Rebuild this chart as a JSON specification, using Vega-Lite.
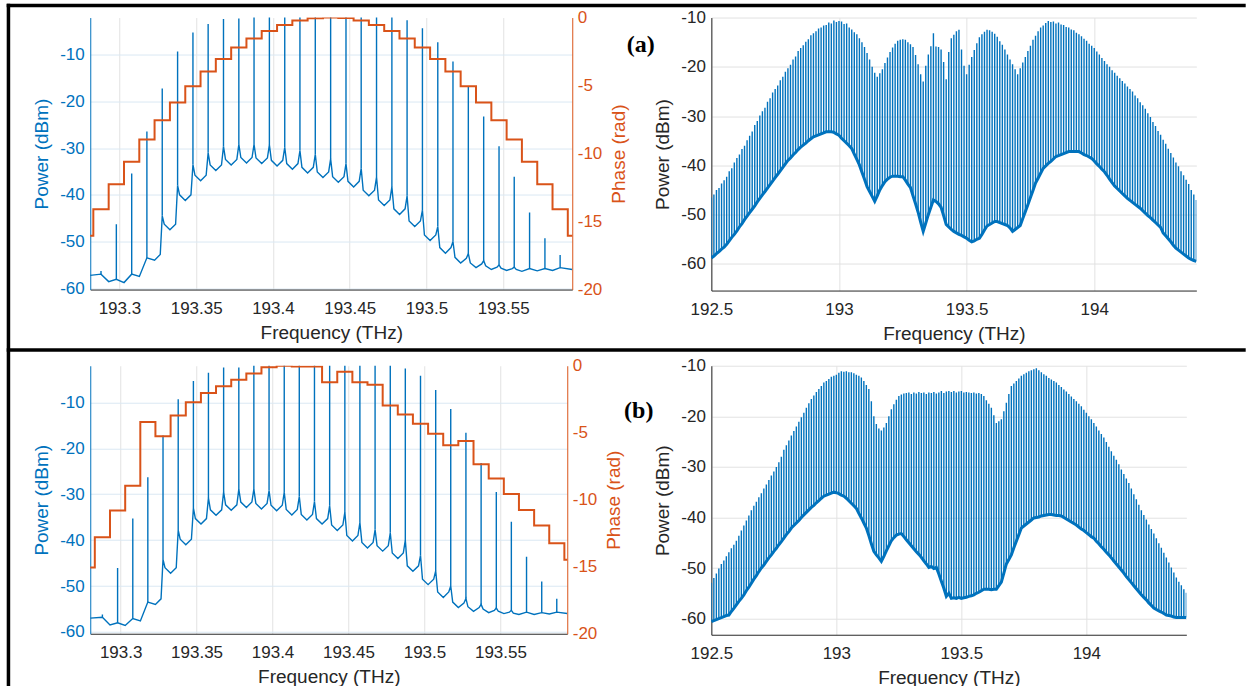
{
"$schema":"https://vega.github.io/schema/vega-lite/v6.json",
"background":"white",
"padding":{"left":5.25,"top":2.55,"right":0,"bottom":0},
"config":{
 "view":{"stroke":null},
 "font":"Liberation Sans",
 "axis":{"labelFont":"Liberation Sans","titleFont":"Liberation Sans","labelFontSize":17,"titleFontSize":19,"titleFontWeight":"normal","labelColor":"#262626","titleColor":"#262626","domainColor":"#262626","domainWidth":1,"ticks":false,"gridColor":"#e2e2e2","gridWidth":1,"labelPadding":6,"titlePadding":8,"labelBound":false,"labelOverlap":false,"labelFlush":false},
 "axisX":{"labelPadding":11,"titlePadding":7}
},
"datasets":{
 "tl_spec":[
  {"f":193.2800,"p":-57.3},{"f":193.2880,"p":-57.0,"pk":-56.3},{"f":193.2930,"p":-58.6},{"f":193.2980,"p":-58.1,"pk":-46.3},{"f":193.3030,"p":-58.8},{"f":193.3080,"p":-57.0,"pk":-35.4},{"f":193.3130,"p":-57.5},{"f":193.3179,"p":-53.5,"pk":-26.4},{"f":193.3229,"p":-54.0},
  {"f":193.3266,"p":-52.8},{"f":193.3279,"p":-44.5,"pk":-17.2},{"f":193.3292,"p":-46.3},{"f":193.3329,"p":-47.5},
  {"f":193.3366,"p":-46.3},{"f":193.3379,"p":-38.0,"pk":-9.3},{"f":193.3392,"p":-40.0},{"f":193.3429,"p":-41.2},
  {"f":193.3466,"p":-40.0},{"f":193.3479,"p":-33.5,"pk":-5.2},{"f":193.3492,"p":-35.8},{"f":193.3529,"p":-37.0},
  {"f":193.3565,"p":-35.8},{"f":193.3578,"p":-31.0,"pk":-3.4},{"f":193.3591,"p":-33.6},{"f":193.3628,"p":-34.8},
  {"f":193.3665,"p":-33.6},{"f":193.3678,"p":-29.6,"pk":-2.3},{"f":193.3691,"p":-32.4},{"f":193.3728,"p":-33.6},
  {"f":193.3765,"p":-32.4},{"f":193.3778,"p":-29.2,"pk":-2.2},{"f":193.3791,"p":-32.0},{"f":193.3828,"p":-33.2},
  {"f":193.3864,"p":-32.0},{"f":193.3877,"p":-29.2,"pk":-1.5},{"f":193.3890,"p":-32.1},{"f":193.3927,"p":-33.3},
  {"f":193.3964,"p":-32.1},{"f":193.3977,"p":-29.3,"pk":-1.5},{"f":193.3990,"p":-32.6},{"f":193.4027,"p":-33.8},
  {"f":193.4064,"p":-32.6},{"f":193.4077,"p":-29.8,"pk":-1.5},{"f":193.4090,"p":-33.3},{"f":193.4127,"p":-34.5},
  {"f":193.4163,"p":-33.3},{"f":193.4176,"p":-30.5,"pk":-1.5},{"f":193.4189,"p":-34.1},{"f":193.4226,"p":-35.3},
  {"f":193.4263,"p":-34.1},{"f":193.4276,"p":-31.3,"pk":-1.5},{"f":193.4289,"p":-35.1},{"f":193.4326,"p":-36.3},
  {"f":193.4363,"p":-35.1},{"f":193.4376,"p":-32.3,"pk":-1.5},{"f":193.4389,"p":-36.1},{"f":193.4426,"p":-37.3},
  {"f":193.4463,"p":-36.1},{"f":193.4476,"p":-33.3,"pk":-1.5},{"f":193.4489,"p":-37.1},{"f":193.4526,"p":-38.3},
  {"f":193.4562,"p":-37.1},{"f":193.4575,"p":-34.3,"pk":-1.5},{"f":193.4588,"p":-39.0},{"f":193.4625,"p":-40.2},
  {"f":193.4662,"p":-39.0},{"f":193.4675,"p":-36.2,"pk":-1.5},{"f":193.4688,"p":-41.1},{"f":193.4725,"p":-42.3},
  {"f":193.4762,"p":-41.1},{"f":193.4775,"p":-38.3,"pk":-1.5},{"f":193.4788,"p":-43.0},{"f":193.4825,"p":-44.2},
  {"f":193.4861,"p":-43.0},{"f":193.4874,"p":-40.2,"pk":-2.6},{"f":193.4887,"p":-45.6},{"f":193.4924,"p":-46.8},
  {"f":193.4961,"p":-45.6},{"f":193.4974,"p":-43.3,"pk":-4.3},{"f":193.4987,"p":-48.6},{"f":193.5024,"p":-49.8},
  {"f":193.5061,"p":-48.6},{"f":193.5074,"p":-46.8,"pk":-7.3},{"f":193.5087,"p":-51.3},{"f":193.5124,"p":-52.5},
  {"f":193.5160,"p":-51.3},{"f":193.5173,"p":-50.0,"pk":-11.4},{"f":193.5186,"p":-53.4},{"f":193.5223,"p":-54.6},
  {"f":193.5260,"p":-53.6},{"f":193.5273,"p":-52.6,"pk":-16.7},{"f":193.5286,"p":-54.6},{"f":193.5323,"p":-55.6},
  {"f":193.5360,"p":-54.8},{"f":193.5373,"p":-54.1,"pk":-23.2},{"f":193.5386,"p":-55.2},{"f":193.5423,"p":-56.0},
  {"f":193.5460,"p":-55.5},{"f":193.5473,"p":-55.0,"pk":-29.6},{"f":193.5486,"p":-55.7},{"f":193.5523,"p":-56.2},
  {"f":193.5559,"p":-55.8},{"f":193.5572,"p":-55.5,"pk":-36.1},{"f":193.5585,"p":-56.0},{"f":193.5622,"p":-56.4},
  {"f":193.5672,"p":-55.8,"pk":-43.8},{"f":193.5722,"p":-56.3},{"f":193.5772,"p":-55.8,"pk":-49.3},{"f":193.5822,"p":-56.2},{"f":193.5871,"p":-55.6,"pk":-52.9},{"f":193.5950,"p":-56.0}
 ],
 "tl_phase":[
  {"f":193.2780,"ph":-16.05},{"f":193.2880,"ph":-14.1},{"f":193.2980,"ph":-12.25},{"f":193.3080,"ph":-10.6},{"f":193.3179,"ph":-8.97},{"f":193.3279,"ph":-7.55},{"f":193.3379,"ph":-6.25},{"f":193.3479,"ph":-5.05},{"f":193.3578,"ph":-3.97},{"f":193.3678,"ph":-3.04},{"f":193.3778,"ph":-2.2},{"f":193.3877,"ph":-1.54},{"f":193.3977,"ph":-0.98},{"f":193.4077,"ph":-0.54},{"f":193.4176,"ph":-0.22},{"f":193.4276,"ph":-0.05},{"f":193.4376,"ph":0},{"f":193.4476,"ph":-0.03},{"f":193.4575,"ph":-0.22},{"f":193.4675,"ph":-0.54},{"f":193.4775,"ph":-0.98},{"f":193.4874,"ph":-1.54},{"f":193.4974,"ph":-2.2},{"f":193.5074,"ph":-3.04},{"f":193.5173,"ph":-3.97},{"f":193.5273,"ph":-5.05},{"f":193.5373,"ph":-6.25},{"f":193.5473,"ph":-7.55},{"f":193.5572,"ph":-8.97},{"f":193.5672,"ph":-10.6},{"f":193.5772,"ph":-12.25},{"f":193.5871,"ph":-14.1},{"f":193.5971,"ph":-16.05}
 ],
 "bl_spec":[
  {"f":193.2800,"p":-57.0},{"f":193.2880,"p":-56.8,"pk":-56.2},{"f":193.2930,"p":-58.5},{"f":193.2980,"p":-58.0,"pk":-46.1},{"f":193.3030,"p":-58.6},{"f":193.3080,"p":-57.1,"pk":-35.3},{"f":193.3130,"p":-57.6},{"f":193.3179,"p":-53.5,"pk":-26.3},{"f":193.3229,"p":-54.0},
  {"f":193.3266,"p":-52.8},{"f":193.3279,"p":-44.2,"pk":-17.2},{"f":193.3292,"p":-46.0},{"f":193.3329,"p":-47.2},
  {"f":193.3366,"p":-46.0},{"f":193.3379,"p":-37.8,"pk":-9.3},{"f":193.3392,"p":-39.8},{"f":193.3429,"p":-41.0},
  {"f":193.3466,"p":-39.8},{"f":193.3479,"p":-33.0,"pk":-5.3},{"f":193.3492,"p":-35.3},{"f":193.3529,"p":-36.5},
  {"f":193.3565,"p":-35.3},{"f":193.3578,"p":-30.8,"pk":-3.5},{"f":193.3591,"p":-33.4},{"f":193.3628,"p":-34.6},
  {"f":193.3665,"p":-33.4},{"f":193.3678,"p":-29.5,"pk":-2.4},{"f":193.3691,"p":-32.3},{"f":193.3728,"p":-33.5},
  {"f":193.3765,"p":-32.3},{"f":193.3778,"p":-28.9,"pk":-2.4},{"f":193.3791,"p":-31.7},{"f":193.3828,"p":-32.9},
  {"f":193.3864,"p":-31.7},{"f":193.3877,"p":-28.9,"pk":-1.5},{"f":193.3890,"p":-32.0},{"f":193.3927,"p":-33.2},
  {"f":193.3964,"p":-32.0},{"f":193.3977,"p":-29.2,"pk":-1.5},{"f":193.3990,"p":-32.4},{"f":193.4027,"p":-33.6},
  {"f":193.4064,"p":-32.4},{"f":193.4077,"p":-29.6,"pk":-1.5},{"f":193.4090,"p":-33.3},{"f":193.4127,"p":-34.5},
  {"f":193.4163,"p":-33.3},{"f":193.4176,"p":-30.5,"pk":-1.5},{"f":193.4189,"p":-34.4},{"f":193.4226,"p":-35.6},
  {"f":193.4263,"p":-34.4},{"f":193.4276,"p":-31.6,"pk":-1.5},{"f":193.4289,"p":-35.3},{"f":193.4326,"p":-36.5},
  {"f":193.4363,"p":-35.3},{"f":193.4376,"p":-32.5,"pk":-1.5},{"f":193.4389,"p":-36.7},{"f":193.4426,"p":-37.9},
  {"f":193.4463,"p":-36.7},{"f":193.4476,"p":-33.9,"pk":-1.5},{"f":193.4489,"p":-39.0},{"f":193.4526,"p":-40.2},
  {"f":193.4562,"p":-39.0},{"f":193.4575,"p":-36.2,"pk":-1.5},{"f":193.4588,"p":-40.5},{"f":193.4625,"p":-41.7},
  {"f":193.4662,"p":-40.5},{"f":193.4675,"p":-37.7,"pk":-1.5},{"f":193.4688,"p":-41.2},{"f":193.4725,"p":-42.4},
  {"f":193.4762,"p":-41.2},{"f":193.4775,"p":-38.4,"pk":-1.5},{"f":193.4788,"p":-42.8},{"f":193.4825,"p":-44.0},
  {"f":193.4861,"p":-42.8},{"f":193.4874,"p":-40.0,"pk":-2.6},{"f":193.4887,"p":-45.6},{"f":193.4924,"p":-46.8},
  {"f":193.4961,"p":-45.6},{"f":193.4974,"p":-43.3,"pk":-4.2},{"f":193.4987,"p":-48.5},{"f":193.5024,"p":-49.7},
  {"f":193.5061,"p":-48.5},{"f":193.5074,"p":-46.7,"pk":-7.3},{"f":193.5087,"p":-51.3},{"f":193.5124,"p":-52.5},
  {"f":193.5160,"p":-51.3},{"f":193.5173,"p":-50.0,"pk":-11.4},{"f":193.5186,"p":-53.5},{"f":193.5223,"p":-54.7},
  {"f":193.5260,"p":-53.7},{"f":193.5273,"p":-52.7,"pk":-16.6},{"f":193.5286,"p":-54.5},{"f":193.5323,"p":-55.5},
  {"f":193.5360,"p":-54.7},{"f":193.5373,"p":-54.0,"pk":-23.2},{"f":193.5386,"p":-55.0},{"f":193.5423,"p":-55.8},
  {"f":193.5460,"p":-55.3},{"f":193.5473,"p":-54.8,"pk":-29.5},{"f":193.5486,"p":-55.5},{"f":193.5523,"p":-56.0},
  {"f":193.5559,"p":-55.7},{"f":193.5572,"p":-55.3,"pk":-36.0},{"f":193.5585,"p":-55.9},{"f":193.5622,"p":-56.2},
  {"f":193.5672,"p":-55.7,"pk":-43.6},{"f":193.5722,"p":-56.2},{"f":193.5772,"p":-55.8,"pk":-49.0},{"f":193.5822,"p":-56.1},{"f":193.5871,"p":-55.7,"pk":-52.8},{"f":193.5940,"p":-56.0}
 ],
 "bl_phase":[
  {"f":193.2780,"ph":-15.05},{"f":193.2880,"ph":-12.8},{"f":193.2980,"ph":-10.8},{"f":193.3080,"ph":-8.96},{"f":193.3179,"ph":-4.2},{"f":193.3279,"ph":-5.27},{"f":193.3379,"ph":-3.71},{"f":193.3479,"ph":-2.72},{"f":193.3578,"ph":-2.03},{"f":193.3678,"ph":-1.53},{"f":193.3778,"ph":-1.04},{"f":193.3877,"ph":-0.57},{"f":193.3977,"ph":-0.12},{"f":193.4077,"ph":0},{"f":193.4176,"ph":-0.05},{"f":193.4276,"ph":-0.05},{"f":193.4376,"ph":-1.24},{"f":193.4476,"ph":-0.45},{"f":193.4575,"ph":-1.24},{"f":193.4675,"ph":-1.41},{"f":193.4775,"ph":-2.97},{"f":193.4874,"ph":-3.64},{"f":193.4974,"ph":-4.33},{"f":193.5074,"ph":-5.07},{"f":193.5173,"ph":-5.94},{"f":193.5273,"ph":-5.62},{"f":193.5373,"ph":-7.35},{"f":193.5473,"ph":-8.42},{"f":193.5572,"ph":-9.58},{"f":193.5672,"ph":-10.77},{"f":193.5772,"ph":-11.93},{"f":193.5871,"ph":-13.24},{"f":193.5971,"ph":-14.48}
 ],
 "tr":[
  {"f":192.50,"h":-46.5,"l":-58.8},{"f":192.51,"h":-45.9,"l":-58.4},{"f":192.52,"h":-45.0,"l":-57.9},{"f":192.53,"h":-44.6,"l":-57.5},{"f":192.54,"h":-43.7,"l":-57.0},{"f":192.55,"h":-43.0,"l":-56.6},{"f":192.56,"h":-42.3,"l":-56.0},{"f":192.57,"h":-41.2,"l":-55.3},{"f":192.58,"h":-40.6,"l":-54.6},{"f":192.59,"h":-39.4,"l":-54.0},
  {"f":192.60,"h":-38.5,"l":-53.3},{"f":192.61,"h":-37.8,"l":-52.5},{"f":192.62,"h":-36.7,"l":-51.8},{"f":192.63,"h":-36.0,"l":-51.0},{"f":192.64,"h":-34.9,"l":-50.3},{"f":192.65,"h":-34.0,"l":-49.6},{"f":192.66,"h":-33.1,"l":-48.9},{"f":192.67,"h":-31.8,"l":-48.2},{"f":192.68,"h":-31.0,"l":-47.4},{"f":192.69,"h":-29.9,"l":-46.7},
  {"f":192.70,"h":-29.0,"l":-46.0},{"f":192.71,"h":-28.3,"l":-45.3},{"f":192.72,"h":-27.1,"l":-44.6},{"f":192.73,"h":-26.4,"l":-43.9},{"f":192.74,"h":-25.2,"l":-43.2},{"f":192.75,"h":-24.5,"l":-42.5},{"f":192.76,"h":-23.8,"l":-41.8},{"f":192.77,"h":-22.7,"l":-41.1},{"f":192.78,"h":-22.0,"l":-40.4},{"f":192.79,"h":-21.0,"l":-39.7},
  {"f":192.80,"h":-20.3,"l":-39.0},{"f":192.81,"h":-19.6,"l":-38.5},{"f":192.82,"h":-18.5,"l":-37.9},{"f":192.83,"h":-17.9,"l":-37.4},{"f":192.84,"h":-16.8,"l":-36.8},{"f":192.85,"h":-16.2,"l":-36.3},{"f":192.86,"h":-15.6,"l":-35.9},{"f":192.87,"h":-14.9,"l":-35.5},{"f":192.88,"h":-14.4,"l":-35.0},{"f":192.89,"h":-13.6,"l":-34.6},
  {"f":192.90,"h":-13.2,"l":-34.2},{"f":192.91,"h":-12.8,"l":-34.0},{"f":192.92,"h":-12.2,"l":-33.8},{"f":192.93,"h":-12.0,"l":-33.6},{"f":192.94,"h":-11.6,"l":-33.4},{"f":192.95,"h":-11.5,"l":-33.2},{"f":192.96,"h":-11.0,"l":-33.2},{"f":192.97,"h":-11.2,"l":-33.2},{"f":192.98,"h":-10.6,"l":-33.3},{"f":192.99,"h":-10.9,"l":-33.6},
  {"f":193.00,"h":-10.7,"l":-33.9},{"f":193.01,"h":-10.8,"l":-34.5},{"f":193.02,"h":-11.3,"l":-35.0},{"f":193.03,"h":-11.2,"l":-35.5},{"f":193.04,"h":-12.0,"l":-36.0},{"f":193.05,"h":-12.4,"l":-36.6},{"f":193.06,"h":-13.0,"l":-37.7},{"f":193.07,"h":-13.4,"l":-38.8},{"f":193.08,"h":-14.2,"l":-39.9},{"f":193.09,"h":-15.0,"l":-41.4},
  {"f":193.10,"h":-16.0,"l":-42.8},{"f":193.11,"h":-17.2,"l":-44.3},{"f":193.12,"h":-18.5,"l":-45.3},{"f":193.13,"h":-20.0,"l":-46.3},{"f":193.14,"h":-21.2,"l":-47.3},{"f":193.15,"h":-22.0,"l":-46.2},{"f":193.16,"h":-21.3,"l":-45.0},{"f":193.17,"h":-20.5,"l":-44.1},{"f":193.18,"h":-19.2,"l":-43.3},{"f":193.19,"h":-18.1,"l":-42.8},
  {"f":193.20,"h":-17.0,"l":-42.4},{"f":193.21,"h":-16.1,"l":-42.2},{"f":193.22,"h":-15.3,"l":-42.2},{"f":193.23,"h":-14.7,"l":-42.2},{"f":193.24,"h":-14.5,"l":-42.3},{"f":193.25,"h":-14.4,"l":-42.3},{"f":193.26,"h":-14.5,"l":-43.0},{"f":193.27,"h":-15.0,"l":-43.8},{"f":193.28,"h":-15.4,"l":-44.5},{"f":193.29,"h":-16.0,"l":-46.2},
  {"f":193.30,"h":-17.6,"l":-47.8},{"f":193.31,"h":-19.5,"l":-49.5},{"f":193.32,"h":-21.5,"l":-51.5},{"f":193.33,"h":-23.0,"l":-53.4},{"f":193.34,"h":-19.8,"l":-51.7},{"f":193.35,"h":-17.5,"l":-50.0},{"f":193.36,"h":-15.8,"l":-48.5},{"f":193.37,"h":-13.2,"l":-47.0},{"f":193.38,"h":-15.9,"l":-47.3},{"f":193.39,"h":-16.0,"l":-47.8},
  {"f":193.40,"h":-16.5,"l":-48.5},{"f":193.41,"h":-19.0,"l":-50.2},{"f":193.42,"h":-22.5,"l":-52.0},{"f":193.43,"h":-17.0,"l":-52.5},{"f":193.44,"h":-14.2,"l":-53.0},{"f":193.45,"h":-13.5,"l":-53.4},{"f":193.46,"h":-12.8,"l":-53.7},{"f":193.47,"h":-12.5,"l":-54.0},{"f":193.48,"h":-16.5,"l":-54.2},{"f":193.49,"h":-19.8,"l":-54.5},
  {"f":193.50,"h":-21.5,"l":-54.8},{"f":193.51,"h":-19.6,"l":-55.2},{"f":193.52,"h":-18.0,"l":-55.5},{"f":193.53,"h":-16.6,"l":-55.3},{"f":193.54,"h":-15.2,"l":-55.0},{"f":193.55,"h":-14.0,"l":-54.8},{"f":193.56,"h":-13.4,"l":-54.0},{"f":193.57,"h":-12.9,"l":-53.1},{"f":193.58,"h":-12.5,"l":-52.3},{"f":193.59,"h":-12.6,"l":-52.0},
  {"f":193.60,"h":-12.9,"l":-51.7},{"f":193.61,"h":-13.3,"l":-51.4},{"f":193.62,"h":-13.9,"l":-51.4},{"f":193.63,"h":-14.8,"l":-51.6},{"f":193.64,"h":-15.5,"l":-51.8},{"f":193.65,"h":-16.5,"l":-52.0},{"f":193.66,"h":-17.5,"l":-52.2},{"f":193.67,"h":-18.5,"l":-52.7},{"f":193.68,"h":-19.5,"l":-53.4},{"f":193.69,"h":-20.5,"l":-53.0},
  {"f":193.70,"h":-21.5,"l":-52.6},{"f":193.71,"h":-20.3,"l":-52.2},{"f":193.72,"h":-19.1,"l":-50.8},{"f":193.73,"h":-18.0,"l":-49.4},{"f":193.74,"h":-16.8,"l":-48.0},{"f":193.75,"h":-15.7,"l":-46.5},{"f":193.76,"h":-14.5,"l":-45.1},{"f":193.77,"h":-13.7,"l":-43.6},{"f":193.78,"h":-12.8,"l":-42.6},{"f":193.79,"h":-12.0,"l":-41.6},
  {"f":193.80,"h":-11.6,"l":-40.6},{"f":193.81,"h":-11.1,"l":-40.1},{"f":193.82,"h":-10.7,"l":-39.6},{"f":193.83,"h":-10.9,"l":-39.2},{"f":193.84,"h":-10.8,"l":-38.7},{"f":193.85,"h":-11.2,"l":-38.2},{"f":193.86,"h":-11.0,"l":-38.0},{"f":193.87,"h":-11.4,"l":-37.8},{"f":193.88,"h":-11.5,"l":-37.6},{"f":193.89,"h":-11.9,"l":-37.4},
  {"f":193.90,"h":-12.0,"l":-37.2},{"f":193.91,"h":-12.4,"l":-37.2},{"f":193.92,"h":-12.6,"l":-37.2},{"f":193.93,"h":-13.1,"l":-37.2},{"f":193.94,"h":-13.4,"l":-37.2},{"f":193.95,"h":-13.8,"l":-37.5},{"f":193.96,"h":-14.3,"l":-37.8},{"f":193.97,"h":-14.7,"l":-38.0},{"f":193.98,"h":-15.3,"l":-38.3},{"f":193.99,"h":-15.7,"l":-38.6},
  {"f":194.00,"h":-16.2,"l":-39.1},{"f":194.01,"h":-16.9,"l":-39.7},{"f":194.02,"h":-17.5,"l":-40.2},{"f":194.03,"h":-18.2,"l":-40.8},{"f":194.04,"h":-18.8,"l":-41.3},{"f":194.05,"h":-19.5,"l":-42.0},{"f":194.06,"h":-20.0,"l":-42.8},{"f":194.07,"h":-20.7,"l":-43.5},{"f":194.08,"h":-21.2,"l":-44.2},{"f":194.09,"h":-21.8,"l":-44.7},
  {"f":194.10,"h":-22.3,"l":-45.2},{"f":194.11,"h":-22.9,"l":-45.7},{"f":194.12,"h":-23.4,"l":-46.2},{"f":194.13,"h":-24.0,"l":-46.7},{"f":194.14,"h":-24.5,"l":-47.1},{"f":194.15,"h":-25.0,"l":-47.5},{"f":194.16,"h":-25.8,"l":-47.9},{"f":194.17,"h":-26.4,"l":-48.3},{"f":194.18,"h":-27.2,"l":-48.7},{"f":194.19,"h":-27.8,"l":-49.2},
  {"f":194.20,"h":-28.5,"l":-49.7},{"f":194.21,"h":-29.4,"l":-50.2},{"f":194.22,"h":-30.2,"l":-50.6},{"f":194.23,"h":-31.2,"l":-51.1},{"f":194.24,"h":-32.0,"l":-51.6},{"f":194.25,"h":-33.0,"l":-52.1},{"f":194.26,"h":-33.8,"l":-52.6},{"f":194.27,"h":-34.8,"l":-53.7},{"f":194.28,"h":-35.6,"l":-54.3},{"f":194.29,"h":-36.6,"l":-54.9},
  {"f":194.30,"h":-37.5,"l":-55.5},{"f":194.31,"h":-38.4,"l":-56.2},{"f":194.32,"h":-39.4,"l":-56.8},{"f":194.33,"h":-40.2,"l":-57.2},{"f":194.34,"h":-41.2,"l":-57.6},{"f":194.35,"h":-42.0,"l":-58.0},{"f":194.36,"h":-42.9,"l":-58.4},{"f":194.37,"h":-43.8,"l":-58.8},{"f":194.38,"h":-45.0,"l":-59.1},{"f":194.39,"h":-45.9,"l":-59.3},
  {"f":194.40,"h":-47.0,"l":-59.5}
 ],
 "br":[
  {"f":192.50,"h":-52.9,"l":-60.6},{"f":192.51,"h":-52.0,"l":-60.4},{"f":192.52,"h":-51.1,"l":-60.2},{"f":192.53,"h":-50.1,"l":-60.0},{"f":192.54,"h":-49.2,"l":-59.8},{"f":192.55,"h":-48.5,"l":-59.6},{"f":192.56,"h":-47.7,"l":-59.4},{"f":192.57,"h":-46.9,"l":-59.3},{"f":192.58,"h":-46.1,"l":-58.6},{"f":192.59,"h":-45.4,"l":-58.0},
  {"f":192.60,"h":-44.6,"l":-57.3},{"f":192.61,"h":-43.6,"l":-56.6},{"f":192.62,"h":-42.6,"l":-56.0},{"f":192.63,"h":-41.6,"l":-55.3},{"f":192.64,"h":-40.6,"l":-54.5},{"f":192.65,"h":-39.6,"l":-53.8},{"f":192.66,"h":-38.6,"l":-53.0},{"f":192.67,"h":-37.7,"l":-52.2},{"f":192.68,"h":-36.9,"l":-51.5},{"f":192.69,"h":-36.0,"l":-50.7},
  {"f":192.70,"h":-35.2,"l":-50.0},{"f":192.71,"h":-34.3,"l":-49.4},{"f":192.72,"h":-33.5,"l":-48.7},{"f":192.73,"h":-32.6,"l":-48.0},{"f":192.74,"h":-31.7,"l":-47.4},{"f":192.75,"h":-30.9,"l":-46.7},{"f":192.76,"h":-30.0,"l":-46.1},{"f":192.77,"h":-29.1,"l":-45.4},{"f":192.78,"h":-28.0,"l":-44.8},{"f":192.79,"h":-26.6,"l":-44.1},
  {"f":192.80,"h":-25.7,"l":-43.4},{"f":192.81,"h":-24.8,"l":-42.8},{"f":192.82,"h":-23.8,"l":-42.1},{"f":192.83,"h":-22.9,"l":-41.6},{"f":192.84,"h":-22.0,"l":-41.1},{"f":192.85,"h":-21.1,"l":-40.6},{"f":192.86,"h":-20.2,"l":-40.0},{"f":192.87,"h":-19.3,"l":-39.5},{"f":192.88,"h":-18.3,"l":-39.0},{"f":192.89,"h":-17.4,"l":-38.5},
  {"f":192.90,"h":-16.6,"l":-38.0},{"f":192.91,"h":-15.9,"l":-37.6},{"f":192.92,"h":-15.2,"l":-37.1},{"f":192.93,"h":-14.6,"l":-36.7},{"f":192.94,"h":-14.0,"l":-36.2},{"f":192.95,"h":-13.3,"l":-35.8},{"f":192.96,"h":-13.0,"l":-35.6},{"f":192.97,"h":-12.6,"l":-35.4},{"f":192.98,"h":-12.2,"l":-35.2},{"f":192.99,"h":-12.0,"l":-35.0},
  {"f":193.00,"h":-11.8,"l":-35.1},{"f":193.01,"h":-11.4,"l":-35.3},{"f":193.02,"h":-11.1,"l":-35.6},{"f":193.03,"h":-11.2,"l":-35.8},{"f":193.04,"h":-11.1,"l":-36.2},{"f":193.05,"h":-11.3,"l":-36.7},{"f":193.06,"h":-11.3,"l":-37.2},{"f":193.07,"h":-11.5,"l":-37.7},{"f":193.08,"h":-11.8,"l":-38.2},{"f":193.09,"h":-12.0,"l":-39.2},
  {"f":193.10,"h":-12.3,"l":-40.1},{"f":193.11,"h":-13.0,"l":-41.1},{"f":193.12,"h":-13.8,"l":-42.1},{"f":193.13,"h":-14.6,"l":-43.6},{"f":193.14,"h":-17.0,"l":-45.2},{"f":193.15,"h":-20.0,"l":-46.7},{"f":193.16,"h":-21.5,"l":-47.4},{"f":193.17,"h":-22.4,"l":-48.0},{"f":193.18,"h":-22.8,"l":-48.7},{"f":193.19,"h":-22.2,"l":-47.7},
  {"f":193.20,"h":-21.3,"l":-46.6},{"f":193.21,"h":-20.0,"l":-45.6},{"f":193.22,"h":-18.6,"l":-44.6},{"f":193.23,"h":-17.6,"l":-44.0},{"f":193.24,"h":-16.7,"l":-43.5},{"f":193.25,"h":-16.0,"l":-43.3},{"f":193.26,"h":-15.7,"l":-43.2},{"f":193.27,"h":-15.5,"l":-43.8},{"f":193.28,"h":-15.4,"l":-44.4},{"f":193.29,"h":-15.3,"l":-45.0},
  {"f":193.30,"h":-15.6,"l":-45.6},{"f":193.31,"h":-15.3,"l":-46.2},{"f":193.32,"h":-15.5,"l":-46.8},{"f":193.33,"h":-15.2,"l":-47.3},{"f":193.34,"h":-15.4,"l":-47.9},{"f":193.35,"h":-15.3,"l":-48.6},{"f":193.36,"h":-15.6,"l":-49.2},{"f":193.37,"h":-15.3,"l":-49.9},{"f":193.38,"h":-15.4,"l":-49.7},{"f":193.39,"h":-15.2,"l":-50.1},
  {"f":193.40,"h":-15.5,"l":-49.9},{"f":193.41,"h":-15.3,"l":-51.2},{"f":193.42,"h":-15.0,"l":-52.6},{"f":193.43,"h":-15.4,"l":-54.0},{"f":193.44,"h":-15.1,"l":-55.6},{"f":193.45,"h":-15.0,"l":-55.0},{"f":193.46,"h":-15.2,"l":-56.0},{"f":193.47,"h":-15.0,"l":-55.9},{"f":193.48,"h":-15.3,"l":-56.0},{"f":193.49,"h":-15.1,"l":-55.8},
  {"f":193.50,"h":-15.0,"l":-56.0},{"f":193.51,"h":-15.3,"l":-55.9},{"f":193.52,"h":-15.2,"l":-55.8},{"f":193.53,"h":-15.3,"l":-55.6},{"f":193.54,"h":-15.4,"l":-55.5},{"f":193.55,"h":-15.3,"l":-55.3},{"f":193.56,"h":-15.5,"l":-55.0},{"f":193.57,"h":-15.4,"l":-54.8},{"f":193.58,"h":-15.6,"l":-54.5},{"f":193.59,"h":-16.0,"l":-54.2},
  {"f":193.60,"h":-16.8,"l":-54.2},{"f":193.61,"h":-17.5,"l":-54.2},{"f":193.62,"h":-18.3,"l":-54.3},{"f":193.63,"h":-19.8,"l":-54.2},{"f":193.64,"h":-21.3,"l":-54.2},{"f":193.65,"h":-21.0,"l":-53.5},{"f":193.66,"h":-20.6,"l":-52.8},{"f":193.67,"h":-19.0,"l":-51.0},{"f":193.68,"h":-17.3,"l":-49.2},{"f":193.69,"h":-15.6,"l":-48.3},
  {"f":193.70,"h":-14.0,"l":-47.4},{"f":193.71,"h":-13.5,"l":-46.0},{"f":193.72,"h":-13.0,"l":-44.7},{"f":193.73,"h":-12.5,"l":-43.4},{"f":193.74,"h":-12.0,"l":-42.1},{"f":193.75,"h":-11.7,"l":-41.7},{"f":193.76,"h":-11.4,"l":-41.3},{"f":193.77,"h":-11.1,"l":-40.9},{"f":193.78,"h":-10.9,"l":-40.5},{"f":193.79,"h":-10.7,"l":-40.1},
  {"f":193.80,"h":-10.5,"l":-40.0},{"f":193.81,"h":-10.9,"l":-39.9},{"f":193.82,"h":-11.3,"l":-39.7},{"f":193.83,"h":-11.7,"l":-39.6},{"f":193.84,"h":-12.0,"l":-39.5},{"f":193.85,"h":-12.4,"l":-39.4},{"f":193.86,"h":-12.7,"l":-39.4},{"f":193.87,"h":-13.0,"l":-39.5},{"f":193.88,"h":-13.3,"l":-39.6},{"f":193.89,"h":-13.8,"l":-39.6},
  {"f":193.90,"h":-14.2,"l":-39.7},{"f":193.91,"h":-14.7,"l":-40.0},{"f":193.92,"h":-15.1,"l":-40.3},{"f":193.93,"h":-15.6,"l":-40.6},{"f":193.94,"h":-16.1,"l":-40.9},{"f":193.95,"h":-16.6,"l":-41.2},{"f":193.96,"h":-17.0,"l":-41.5},{"f":193.97,"h":-17.5,"l":-41.9},{"f":193.98,"h":-18.0,"l":-42.3},{"f":193.99,"h":-18.7,"l":-42.6},
  {"f":194.00,"h":-19.3,"l":-43.0},{"f":194.01,"h":-20.0,"l":-43.4},{"f":194.02,"h":-20.6,"l":-43.8},{"f":194.03,"h":-21.3,"l":-44.1},{"f":194.04,"h":-22.0,"l":-44.7},{"f":194.05,"h":-22.8,"l":-45.2},{"f":194.06,"h":-23.5,"l":-45.8},{"f":194.07,"h":-24.2,"l":-46.3},{"f":194.08,"h":-25.1,"l":-46.9},{"f":194.09,"h":-26.0,"l":-47.4},
  {"f":194.10,"h":-26.9,"l":-48.0},{"f":194.11,"h":-27.8,"l":-48.6},{"f":194.12,"h":-28.6,"l":-49.2},{"f":194.13,"h":-29.5,"l":-49.8},{"f":194.14,"h":-30.5,"l":-50.4},{"f":194.15,"h":-31.4,"l":-51.0},{"f":194.16,"h":-32.3,"l":-51.7},{"f":194.17,"h":-33.2,"l":-52.3},{"f":194.18,"h":-34.3,"l":-52.9},{"f":194.19,"h":-35.4,"l":-53.5},
  {"f":194.20,"h":-36.4,"l":-54.1},{"f":194.21,"h":-37.5,"l":-54.7},{"f":194.22,"h":-38.6,"l":-55.3},{"f":194.23,"h":-39.5,"l":-55.8},{"f":194.24,"h":-40.4,"l":-56.3},{"f":194.25,"h":-41.4,"l":-56.9},{"f":194.26,"h":-42.3,"l":-57.4},{"f":194.27,"h":-43.2,"l":-57.9},{"f":194.28,"h":-44.1,"l":-58.2},{"f":194.29,"h":-45.1,"l":-58.5},
  {"f":194.30,"h":-46.0,"l":-58.7},{"f":194.31,"h":-47.0,"l":-59.0},{"f":194.32,"h":-47.9,"l":-59.3},{"f":194.33,"h":-48.9,"l":-59.4},{"f":194.34,"h":-49.9,"l":-59.5},{"f":194.35,"h":-50.9,"l":-59.7},{"f":194.36,"h":-51.9,"l":-59.8},{"f":194.37,"h":-52.7,"l":-59.8},{"f":194.38,"h":-53.4,"l":-59.8},{"f":194.39,"h":-54.2,"l":-59.8},
  {"f":194.40,"h":-54.9,"l":-59.8}
 ]
},
"columns":2,
"spacing":{"row":75.2,"column":139.1},
"bounds":"flush",
"concat":[
 {
  "width":482,"height":272,
  "layer":[
   {"layer":[
    {"data":{"name":"tl_spec"},"mark":{"type":"line","color":"#0072BD","strokeWidth":1.4,"clip":true},
     "encoding":{
      "x":{"field":"f","type":"quantitative","scale":{"domain":[193.281,193.595],"nice":false,"zero":false},
           "axis":{"values":[193.3,193.35,193.4,193.45,193.5,193.55],"labelExpr":"'' + datum.value","title":"Frequency (THz)","grid":true,"gridColor":"#e2e2e2"}},
      "y":{"field":"p","type":"quantitative","scale":{"domain":[-60.3,-2.0],"nice":false,"zero":false},
           "axis":{"orient":"left","values":[-60,-50,-40,-30,-20,-10],"labelExpr":"'' + datum.value","title":"Power (dBm)","labelColor":"#0072BD","titleColor":"#0072BD","domainColor":"#0072BD","grid":true,"gridColor":"#dae8f3"}}}},
    {"data":{"name":"tl_spec"},"transform":[{"filter":"isValid(datum.pk)"}],"mark":{"type":"rule","color":"#0072BD","strokeWidth":1.4,"clip":true},
     "encoding":{
      "x":{"field":"f","type":"quantitative","scale":{"domain":[193.281,193.595],"nice":false,"zero":false}},
      "y":{"field":"p","type":"quantitative","scale":{"domain":[-60.3,-2.0],"nice":false,"zero":false}},
      "y2":{"field":"pk"}}},
    {"data":{"values":[{}]},"mark":{"type":"rule","color":"#000000","strokeWidth":3.5,"strokeCap":"square","clip":false},
     "encoding":{
      "x":{"datum":193.22771,"type":"quantitative","scale":{"domain":[193.281,193.595],"nice":false,"zero":false}},
      "x2":{"datum":194.03258},
      "y":{"datum":0.5721,"type":"quantitative","scale":{"domain":[-60.3,-2.0],"nice":false,"zero":false}}}},
    {"data":{"values":[{}]},"mark":{"type":"rule","color":"#000000","strokeWidth":3.5,"strokeCap":"square","clip":false},
     "encoding":{
      "x":{"datum":193.22771,"type":"quantitative","scale":{"domain":[193.281,193.595],"nice":false,"zero":false}},
      "x2":{"datum":194.03258},
      "y":{"datum":-73.268,"type":"quantitative","scale":{"domain":[-60.3,-2.0],"nice":false,"zero":false}}}},
    {"data":{"values":[{}]},"mark":{"type":"rule","color":"#000000","strokeWidth":3.5,"strokeCap":"square","clip":false},
     "encoding":{
      "x":{"datum":193.22771,"type":"quantitative","scale":{"domain":[193.281,193.595],"nice":false,"zero":false}},
      "y":{"datum":0.5721,"type":"quantitative","scale":{"domain":[-60.3,-2.0],"nice":false,"zero":false}},
      "y2":{"datum":-145.114}}}
   ]},
   {"data":{"name":"tl_phase"},"mark":{"type":"line","color":"#D95319","strokeWidth":2,"interpolate":"step","clip":true},
    "encoding":{
     "x":{"field":"f","type":"quantitative","scale":{"domain":[193.281,193.595],"nice":false,"zero":false}},
     "y":{"field":"ph","type":"quantitative","scale":{"domain":[-20,0],"nice":false,"zero":false},
          "axis":{"orient":"right","values":[-20,-15,-10,-5,0],"labelExpr":"'' + datum.value","title":"Phase (rad)","labelColor":"#D95319","titleColor":"#D95319","domainColor":"#D95319","grid":false,"labelPadding":5,"titleAngle":270,"titleBaseline":"top","titlePadding":8}}}}
  ],
  "resolve":{"scale":{"y":"independent"},"axis":{"y":"independent"}}
 },
 {
  "width":485,"height":273,
  "title":{"text":"(a)","orient":"left","anchor":"end","angle":0,"align":"right","baseline":"top","font":"Liberation Serif","fontSize":24,"fontWeight":"bold","color":"#000000","offset":0,"dx":29,"dy":24},
  "data":{"name":"tr"},
  "layer":[
   {"mark":{"type":"rule","color":"#0072BD","strokeWidth":1.4,"clip":true},
    "encoding":{
     "x":{"field":"f","type":"quantitative","scale":{"domain":[192.5,194.4],"nice":false,"zero":false},
          "axis":{"values":[192.5,193,193.5,194],"labelExpr":"'' + datum.value","title":"Frequency (THz)","grid":true}},
     "y":{"field":"l","type":"quantitative","scale":{"domain":[-65.4,-10],"nice":false,"zero":false},
          "axis":{"values":[-60,-50,-40,-30,-20,-10],"labelExpr":"'' + datum.value","title":"Power (dBm)","grid":true}},
     "y2":{"field":"h"}}},
   {"mark":{"type":"line","color":"#0072BD","strokeWidth":3,"clip":true},
    "encoding":{"x":{"field":"f","type":"quantitative"},"y":{"field":"l","type":"quantitative"}}}
  ]
 },
 {
  "width":477,"height":268,
  "layer":[
   {"layer":[
    {"data":{"name":"bl_spec"},"mark":{"type":"line","color":"#0072BD","strokeWidth":1.4,"clip":true},
     "encoding":{
      "x":{"field":"f","type":"quantitative","scale":{"domain":[193.28,193.594],"nice":false,"zero":false},
           "axis":{"values":[193.3,193.35,193.4,193.45,193.5,193.55],"labelExpr":"'' + datum.value","title":"Frequency (THz)","grid":true,"gridColor":"#e2e2e2"}},
      "y":{"field":"p","type":"quantitative","scale":{"domain":[-60.4,-2.0],"nice":false,"zero":false},
           "axis":{"orient":"left","values":[-60,-50,-40,-30,-20,-10],"labelExpr":"'' + datum.value","title":"Power (dBm)","labelColor":"#0072BD","titleColor":"#0072BD","domainColor":"#0072BD","grid":true,"gridColor":"#dae8f3"}}}},
    {"data":{"name":"bl_spec"},"transform":[{"filter":"isValid(datum.pk)"}],"mark":{"type":"rule","color":"#0072BD","strokeWidth":1.4,"clip":true},
     "encoding":{
      "x":{"field":"f","type":"quantitative","scale":{"domain":[193.28,193.594],"nice":false,"zero":false}},
      "y":{"field":"p","type":"quantitative","scale":{"domain":[-60.4,-2.0],"nice":false,"zero":false}},
      "y2":{"field":"pk"}}}
   ]},
   {"data":{"name":"bl_phase"},"mark":{"type":"line","color":"#D95319","strokeWidth":2,"interpolate":"step","clip":true},
    "encoding":{
     "x":{"field":"f","type":"quantitative","scale":{"domain":[193.28,193.594],"nice":false,"zero":false}},
     "y":{"field":"ph","type":"quantitative","scale":{"domain":[-20,0],"nice":false,"zero":false},
          "axis":{"orient":"right","values":[-20,-15,-10,-5,0],"labelExpr":"'' + datum.value","title":"Phase (rad)","labelColor":"#D95319","titleColor":"#D95319","domainColor":"#D95319","grid":false,"labelPadding":5,"titleAngle":270,"titleBaseline":"top","titlePadding":8}}}}
  ],
  "resolve":{"scale":{"y":"independent"},"axis":{"y":"independent"}}
 },
 {
  "width":475,"height":269,
  "title":{"text":"(b)","orient":"left","anchor":"end","angle":0,"align":"right","baseline":"top","font":"Liberation Serif","fontSize":24,"fontWeight":"bold","color":"#000000","offset":0,"dx":29,"dy":42},
  "data":{"name":"br"},
  "layer":[
   {"mark":{"type":"rule","color":"#0072BD","strokeWidth":1.4,"clip":true},
    "encoding":{
     "x":{"field":"f","type":"quantitative","scale":{"domain":[192.5,194.4],"nice":false,"zero":false},
          "axis":{"values":[192.5,193,193.5,194],"labelExpr":"'' + datum.value","title":"Frequency (THz)","grid":true}},
     "y":{"field":"l","type":"quantitative","scale":{"domain":[-63.2,-10],"nice":false,"zero":false},
          "axis":{"values":[-60,-50,-40,-30,-20,-10],"labelExpr":"'' + datum.value","title":"Power (dBm)","grid":true}},
     "y2":{"field":"h"}}},
   {"mark":{"type":"line","color":"#0072BD","strokeWidth":3,"clip":true},
    "encoding":{"x":{"field":"f","type":"quantitative"},"y":{"field":"l","type":"quantitative"}}}
  ]
 }
]
}
